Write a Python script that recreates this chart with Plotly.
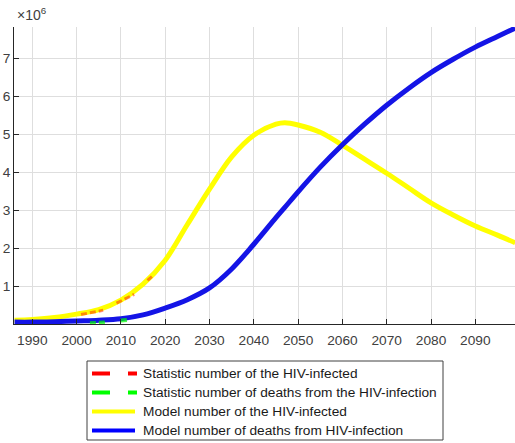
import plotly.graph_objects as go

# ---- data (values in units of 1e6 people) ----
model_years = [1986, 1990, 1995, 2000, 2005, 2010, 2015, 2020, 2025, 2030, 2035, 2040,
               2045, 2047, 2050, 2055, 2060, 2065, 2070, 2075, 2080, 2085, 2090, 2095, 2099]
model_infected = [0.10, 0.12, 0.17, 0.26, 0.38, 0.63, 1.05, 1.68, 2.62, 3.55, 4.40, 4.97,
                  5.26, 5.30, 5.24, 5.05, 4.71, 4.34, 3.97, 3.58, 3.19, 2.87, 2.58, 2.34, 2.14]
model_deaths = [0.05, 0.05, 0.06, 0.08, 0.10, 0.14, 0.24, 0.42, 0.64, 0.95, 1.45, 2.10,
                2.80, 3.07, 3.48, 4.13, 4.72, 5.26, 5.76, 6.21, 6.62, 6.97, 7.29, 7.57, 7.79]

stat_inf_years = [2001, 2002, 2003, 2004, 2005, 2006, None, 2009, 2010, 2011, 2012, 2013, None, 2016, 2017]
stat_infected = [0.25, 0.27, 0.29, 0.31, 0.33, 0.36, None, 0.55, 0.60, 0.66, 0.72, 0.78, None, 1.15, 1.25]

stat_death_years = [2003, 2004, 2005, 2006, 2007, None, 2010, 2011, 2012]
stat_deaths = [0.02, 0.025, 0.03, 0.035, 0.04, None, 0.09, 0.10, 0.11]

x_ticks = [1990, 2000, 2010, 2020, 2030, 2040, 2050, 2060, 2070, 2080, 2090]
y_ticks = [1, 2, 3, 4, 5, 6, 7]

legend_labels = ["Statistic number of the HIV-infected",
                 "Statistic number of deaths from the HIV-infection",
                 "Model number of the HIV-infected",
                 "Model number of deaths from HIV-infection"]
legend_colors = ["#ff0000", "#00ff00", "#ffff00", "#0000ff"]
legend_dashes = ["18px,18px", "18px,18px", "solid", "solid"]

SCALE = 1e6
FONT = "Liberation Sans, Arial, sans-serif"


def scaled(vals):
    return [None if v is None else v * SCALE for v in vals]


fig = go.Figure()
fig.add_trace(go.Scatter(x=model_years, y=scaled(model_infected), mode="lines",
                         line=dict(color="#ffff00", width=5, shape="spline"),
                         showlegend=False))
fig.add_trace(go.Scatter(x=model_years, y=scaled(model_deaths), mode="lines",
                         line=dict(color="rgb(20,20,230)", width=5, shape="spline"),
                         showlegend=False))
fig.add_trace(go.Scatter(x=stat_inf_years, y=scaled(stat_infected), mode="lines",
                         line=dict(color="#ff0000", width=3, dash="6px,3px"), opacity=0.45,
                         connectgaps=False, showlegend=False))
fig.add_trace(go.Scatter(x=stat_death_years, y=scaled(stat_deaths), mode="lines",
                         line=dict(color="#00ff00", width=4, dash="6px,3px"), opacity=0.7,
                         connectgaps=False, showlegend=False))

W, H = 515, 443
L, R, T, B = 14, 0, 27, 443 - 324
pw, ph = W - L - R, H - T - B


def px(x):
    return (x - L) / pw


def py(y):
    return (H - B - y) / ph


axis_common = dict(showline=True, linecolor="#262626", linewidth=1,
                   ticks="inside", ticklen=5, tickcolor="#262626",
                   showgrid=True, gridcolor="#dedede", gridwidth=1,
                   zeroline=False, mirror=False,
                   tickfont=dict(family=FONT, size=13.7, color="#404040"))

fig.update_layout(
    width=W, height=H,
    margin=dict(l=L, r=R, t=T, b=B, pad=0),
    paper_bgcolor="white", plot_bgcolor="white",
    xaxis=dict(range=[1985.87, 2098.96], tickvals=x_ticks,
               ticktext=[str(v) for v in x_ticks], ticklabelstandoff=4, **axis_common),
    yaxis=dict(range=[0, 7.82e6], tickvals=[v * SCALE for v in y_ticks],
               ticktext=[str(v) for v in y_ticks], **axis_common),
    showlegend=False,
)

# exponent label
fig.add_annotation(text="\u00d710<sup>6</sup>", xref="paper", yref="paper",
                   x=px(15), y=py(25), xanchor="left", yanchor="bottom",
                   showarrow=False, font=dict(family=FONT, size=14, color="#404040"))

# custom legend
shapes = [dict(type="rect", xref="paper", yref="paper",
               x0=px(87), x1=px(443), y0=py(440), y1=py(361),
               line=dict(color="#404040", width=1), fillcolor="white", layer="above")]
row_y = [373.5, 392.5, 411.5, 430.5]
for lab, col, dsh, ry in zip(legend_labels, legend_colors, legend_dashes, row_y):
    shapes.append(dict(type="line", xref="paper", yref="paper",
                       x0=px(92), x1=px(137 if dsh != "solid" else 135), y0=py(ry), y1=py(ry),
                       line=dict(color=col, width=4, dash=dsh), layer="above"))
    fig.add_annotation(text=lab, xref="paper", yref="paper", x=px(141), y=py(ry),
                       xanchor="left", yanchor="middle", showarrow=False,
                       font=dict(family=FONT, size=13.7, color="#1a1a1a"))
fig.update_layout(shapes=shapes)

fig.write_html("out.html", config={"displayModeBar": False},
               post_script="document.body.style.margin='0';document.body.style.overflow='hidden';")
